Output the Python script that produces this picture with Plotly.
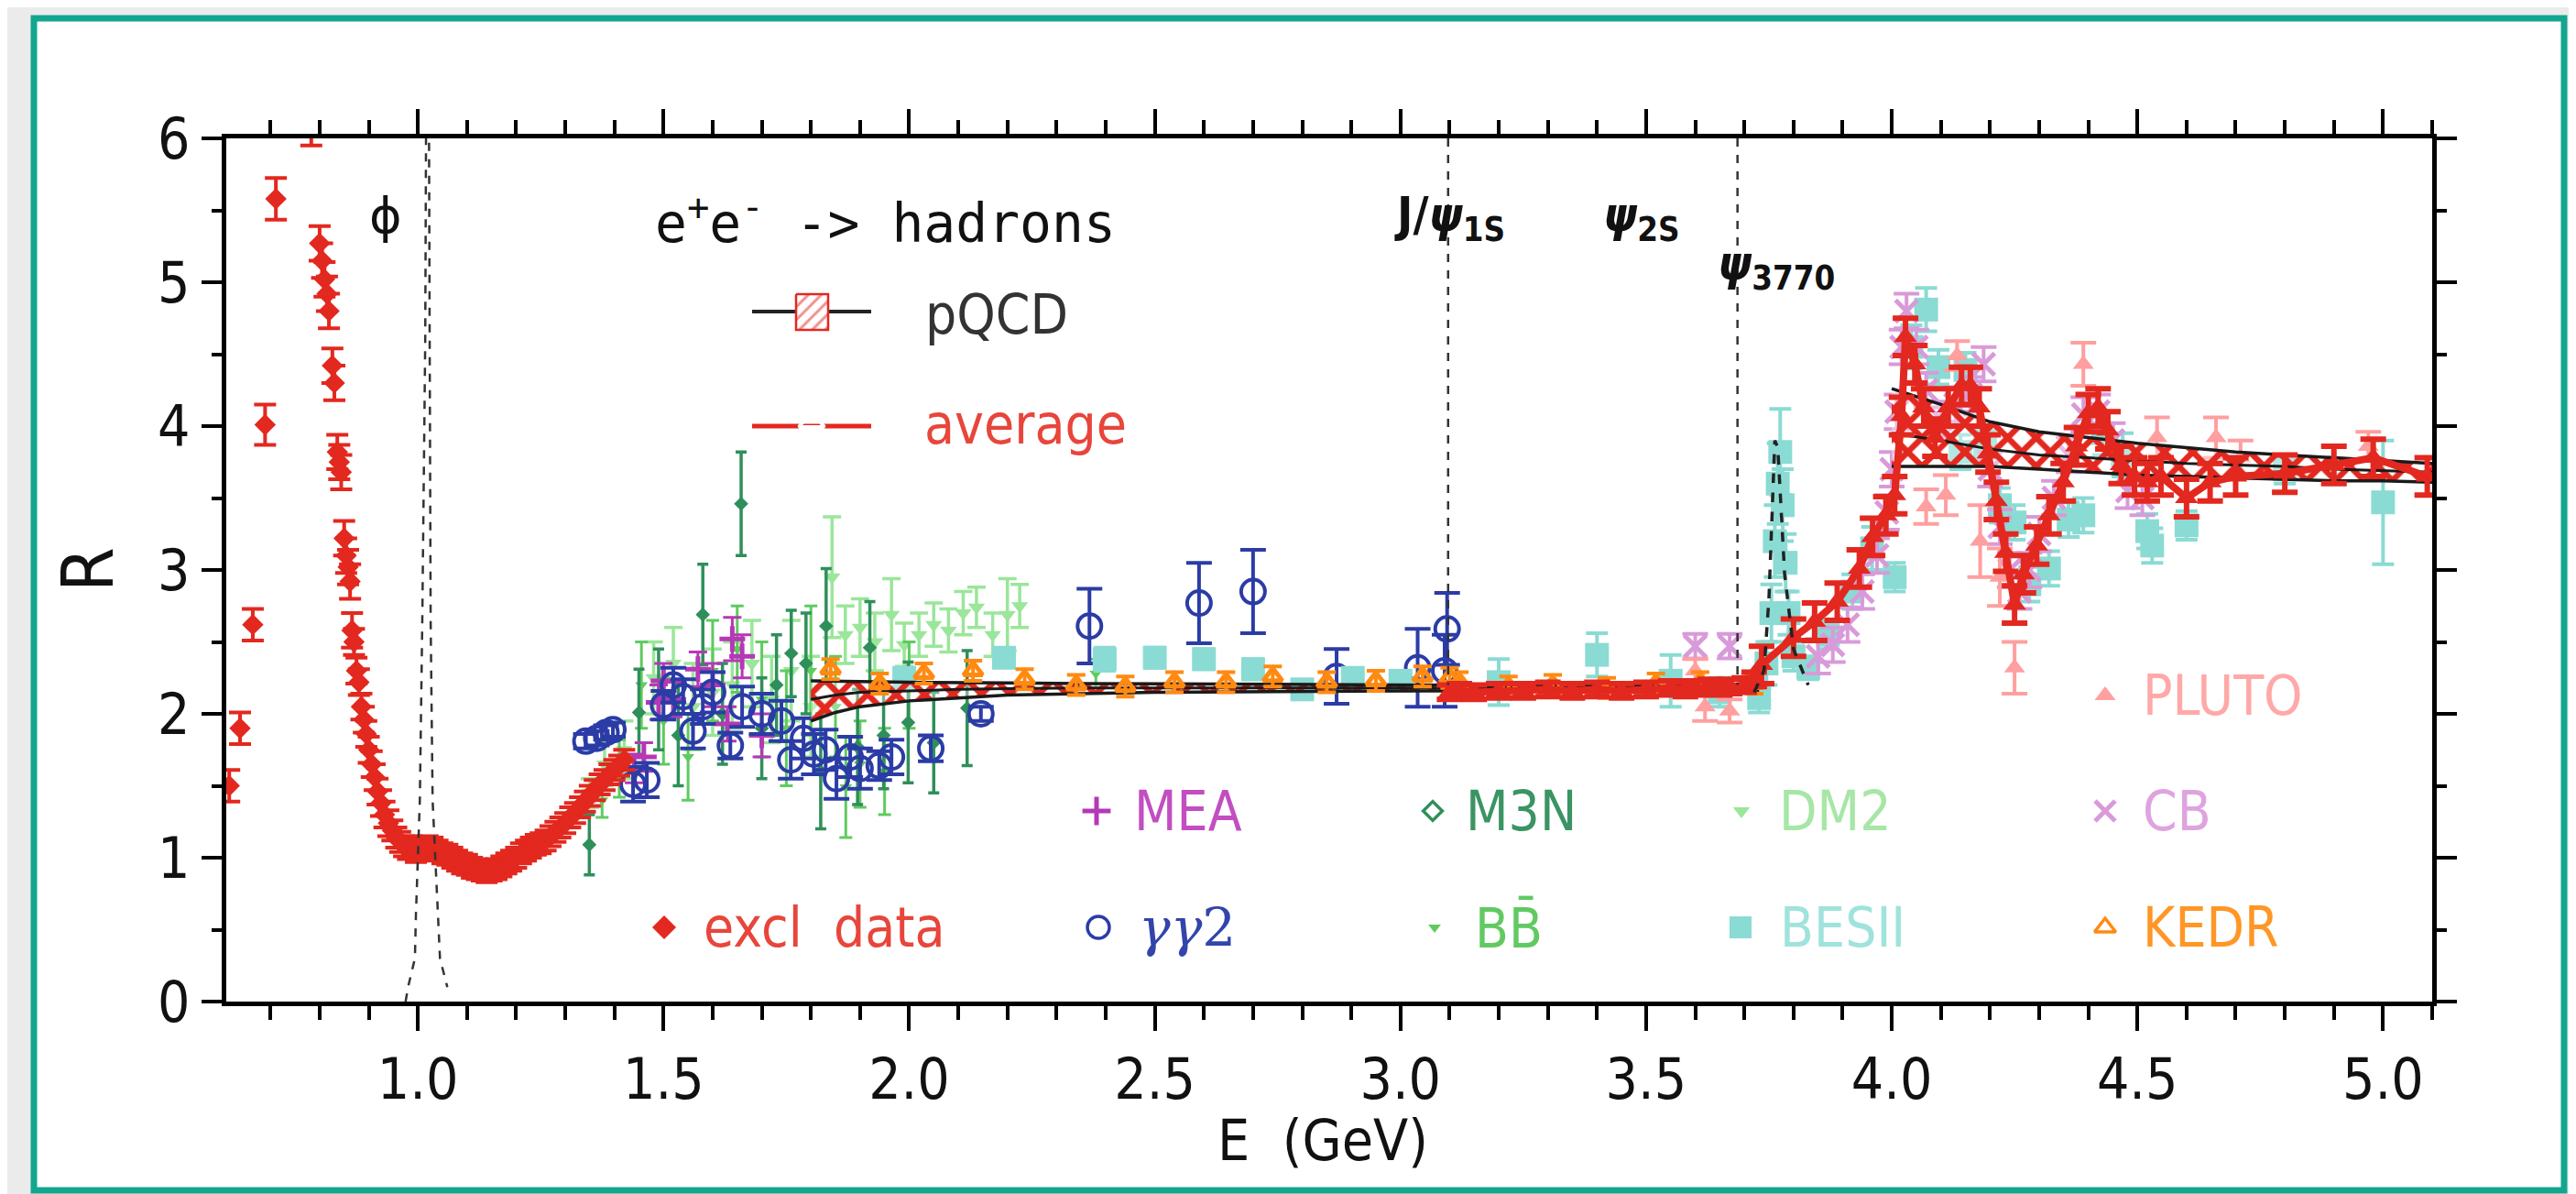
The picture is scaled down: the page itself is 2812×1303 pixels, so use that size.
import plotly.graph_objects as go

W, H = 2812, 1303
L, RR, T, B = 239, 2647, 143, 1085  # plot area in px

# ---------------- data ----------------
excl_E = [0.616, 0.638, 0.664, 0.689, 0.711, 0.783, 0.800, 0.805, 0.810, 0.815, 0.819, 0.826, 0.830,
          0.836, 0.840, 0.844, 0.850, 0.854, 0.858, 0.862, 0.866, 0.870, 0.875, 0.880, 0.885, 0.890,
          0.895, 0.900, 0.906, 0.912, 0.918, 0.925, 0.932, 0.940, 0.948, 0.956, 0.964, 0.972, 0.980,
          0.988, 0.996, 1.004, 1.012, 1.020, 1.030, 1.040, 1.050, 1.060, 1.070, 1.080, 1.090, 1.100,
          1.110, 1.120, 1.130, 1.140, 1.150, 1.160, 1.170, 1.180, 1.190, 1.200, 1.210, 1.220, 1.230,
          1.240, 1.250, 1.260, 1.270, 1.280, 1.290, 1.300, 1.310, 1.320, 1.330, 1.340, 1.350, 1.360,
          1.370, 1.380, 1.390, 1.400, 1.410, 1.420]
excl_R = [1.50, 1.90, 2.62, 4.01, 5.58, 6.10, 5.27, 5.15, 5.02, 4.92, 4.80, 4.42, 4.30,
          3.82, 3.75, 3.68, 3.22, 3.10, 3.02, 2.92, 2.58, 2.50, 2.30, 2.22, 2.05, 1.96,
          1.86, 1.75, 1.65, 1.56, 1.46, 1.38, 1.30, 1.24, 1.19, 1.14, 1.11, 1.08, 1.06,
          1.08, 1.04, 1.07, 1.06, 1.08, 1.07, 1.05, 1.03, 1.02, 1.00, 0.98, 0.96, 0.95,
          0.93, 0.92, 0.91, 0.90, 0.91, 0.92, 0.94, 0.96, 0.98, 1.00, 1.03, 1.05, 1.07,
          1.09, 1.10, 1.12, 1.15, 1.18, 1.21, 1.24, 1.28, 1.31, 1.35, 1.39, 1.43, 1.47,
          1.51, 1.54, 1.58, 1.61, 1.64, 1.68]
excl_err = [0.11, 0.11, 0.11, 0.14, 0.145, 0.15] + [0.12] * 15 + [0.09] * 13 + [0.07] * 50

gg_E = [1.342, 1.364, 1.383, 1.397, 1.438, 1.466, 1.50, 1.52, 1.54, 1.56, 1.58, 1.60, 1.636, 1.66, 1.70,
        1.74, 1.759, 1.785, 1.806, 1.83, 1.852, 1.88, 1.90, 1.939, 1.964, 2.044, 2.146, 2.367, 2.59, 2.70,
        2.87, 3.035, 3.09, 3.095]
gg_R = [1.81, 1.83, 1.87, 1.89, 1.51, 1.54, 2.06, 2.20, 2.12, 1.88, 2.05, 2.15, 1.78, 2.05, 2.00,
        1.95, 1.68, 1.83, 1.72, 1.75, 1.55, 1.70, 1.62, 1.64, 1.70, 1.76, 2.00, 2.61, 2.77, 2.85,
        2.26, 2.32, 2.30, 2.59]
gg_err = [0.05, 0.05, 0.05, 0.05, 0.12, 0.12, 0.10, 0.12, 0.12, 0.12, 0.12, 0.14, 0.09, 0.14, 0.14,
          0.14, 0.13, 0.14, 0.14, 0.14, 0.14, 0.14, 0.14, 0.10, 0.12, 0.09, 0.05, 0.26, 0.28, 0.29,
          0.19, 0.27, 0.25, 0.25]

m3n_E = [1.349, 1.45, 1.49, 1.53, 1.58, 1.62, 1.658, 1.70, 1.73, 1.76, 1.79, 1.82, 1.831, 1.895, 1.92,
         1.948, 1.998, 2.05, 2.118]
m3n_R = [1.09, 2.01, 2.10, 1.85, 2.69, 2.00, 3.46, 1.90, 2.20, 2.42, 2.35, 1.60, 2.61, 1.77, 2.46,
         1.85, 1.94, 1.80, 2.04]
m3n_err = [0.21, 0.30, 0.35, 0.35, 0.35, 0.35, 0.36, 0.35, 0.35, 0.30, 0.35, 0.40, 0.40, 0.40, 0.32,
           0.37, 0.42, 0.35, 0.40]

dm2_E = [1.35, 1.38, 1.42, 1.48, 1.52, 1.56, 1.60, 1.64, 1.68, 1.72, 1.76, 1.80, 1.843, 1.87, 1.90,
         1.93, 1.964, 1.99, 2.02, 2.05, 2.08, 2.11, 2.137, 2.17, 2.20, 2.225]
dm2_R = [1.45, 1.65, 1.75, 2.25, 2.35, 2.05, 2.15, 2.20, 2.35, 2.10, 2.30, 2.05, 2.95, 2.55, 2.60,
         2.50, 2.69, 2.48, 2.55, 2.62, 2.58, 2.70, 2.74, 2.55, 2.69, 2.75]
dm2_err = [0.10, 0.15, 0.20, 0.25, 0.25, 0.30, 0.30, 0.30, 0.30, 0.30, 0.35, 0.35, 0.42, 0.20, 0.20,
           0.20, 0.25, 0.15, 0.15, 0.15, 0.15, 0.15, 0.14, 0.15, 0.25, 0.15]

bb_E = [1.375, 1.41, 1.455, 1.50, 1.55, 1.60, 1.65, 1.70, 1.75, 1.80, 1.85, 1.871, 1.90, 1.95, 2.00, 2.38]
bb_R = [1.40, 1.62, 2.20, 1.95, 1.70, 2.30, 2.45, 2.10, 1.90, 2.30, 2.05, 1.49, 1.65, 1.60, 2.20, 2.28]
bb_err = [0.12, 0.20, 0.30, 0.30, 0.30, 0.35, 0.30, 0.40, 0.40, 0.45, 0.35, 0.35, 0.30, 0.30, 0.30, 0.10]

mea_E = [1.44, 1.46, 1.49, 1.50, 1.52, 1.57, 1.60, 1.63, 1.64, 1.66, 1.70]
mea_R = [1.62, 1.70, 2.08, 2.23, 2.10, 2.31, 2.20, 1.93, 2.52, 2.40, 1.85]
mea_err = [0.10, 0.10, 0.12, 0.12, 0.12, 0.12, 0.15, 0.12, 0.15, 0.15, 0.15]

bes_E = [1.99, 2.193, 2.398, 2.50, 2.60, 2.70, 2.80, 2.903, 3.00, 3.20, 3.40, 3.55, 3.65, 3.73, 3.745,
         3.755, 3.762, 3.768, 3.773, 3.778, 3.784, 3.79, 3.80, 3.83, 3.87, 3.92, 3.96, 4.006, 4.04, 4.07,
         4.095, 4.14, 4.15, 4.19, 4.22, 4.25, 4.28, 4.32, 4.36, 4.39, 4.43, 4.47, 4.52, 4.53, 4.60, 4.80, 5.00]
bes_R = [2.25, 2.39, 2.38, 2.39, 2.38, 2.31, 2.17, 2.25, 2.23, 2.22, 2.41, 2.23, 2.15, 2.11, 2.35,
         2.70, 3.20, 3.60, 3.82, 3.45, 3.05, 2.70, 2.40, 2.32, 2.55, 2.85, 3.15, 2.95, 4.55, 4.81,
         4.41, 3.82, 4.39, 3.85, 3.45, 3.33, 2.90, 3.01, 3.35, 3.38, 3.95, 3.80, 3.27, 3.17, 3.31, 3.70, 3.47]
bes_err = [0.05, 0.06, 0.08, 0.07, 0.07, 0.07, 0.05, 0.05, 0.05, 0.16, 0.15, 0.18, 0.10, 0.10, 0.15,
           0.20, 0.25, 0.28, 0.30, 0.25, 0.20, 0.15, 0.10, 0.08, 0.10, 0.12, 0.15, 0.10, 0.15, 0.15,
           0.12, 0.12, 0.12, 0.12, 0.12, 0.12, 0.12, 0.12, 0.12, 0.12, 0.15, 0.15, 0.12, 0.12, 0.10, 0.10, 0.43]

cb_E = [3.60, 3.67, 3.85, 3.88, 3.91, 3.94, 3.97, 3.99, 4.00, 4.01, 4.02, 4.03, 4.05, 4.07, 4.10, 4.13,
        4.16, 4.187, 4.20, 4.22, 4.24, 4.26, 4.28, 4.30, 4.33, 4.36, 4.39, 4.42, 4.45, 4.48, 4.51]
cb_R = [2.47, 2.47, 2.40, 2.48, 2.62, 2.85, 3.10, 3.40, 3.70, 4.10, 4.55, 4.80, 4.55, 4.25, 4.05, 4.15,
        4.22, 4.43, 3.70, 3.30, 3.00, 2.85, 3.00, 3.25, 3.50, 3.80, 4.08, 4.10, 3.90, 3.55, 3.50]
cb_err = [0.085, 0.085] + [0.12] * 29

pluto_E = [3.60, 3.62, 3.67, 4.07, 4.11, 4.133, 4.18, 4.22, 4.25, 4.39, 4.54, 4.66, 4.71, 4.97]
pluto_R = [2.30, 2.05, 2.02, 3.44, 3.52, 4.49, 3.20, 2.95, 2.32, 4.43, 3.92, 3.92, 3.78, 3.86]
pluto_err = [0.08, 0.10, 0.08, 0.12, 0.14, 0.10, 0.25, 0.20, 0.18, 0.15, 0.14, 0.14, 0.12, 0.10]

kedr_E = [1.84, 1.94, 2.03, 2.13, 2.235, 2.34, 2.44, 2.54, 2.645, 2.74, 2.85, 2.95, 3.045, 3.10, 3.12,
          3.22, 3.31, 3.42, 3.52, 3.61, 3.72]
kedr_R = [2.31, 2.21, 2.28, 2.30, 2.24, 2.20, 2.19, 2.22, 2.22, 2.26, 2.22, 2.23, 2.26, 2.25, 2.22,
          2.19, 2.20, 2.18, 2.21, 2.22, 2.21]
kedr_err = [0.07] * 21

avg_E = [3.10, 3.12, 3.15, 3.20, 3.25, 3.30, 3.35, 3.40, 3.45, 3.50, 3.55, 3.58, 3.60, 3.63, 3.65, 3.67,
         3.70, 3.72, 3.735, 3.80, 3.843, 3.889, 3.934, 3.961, 3.988, 4.006, 4.02, 4.028, 4.047, 4.065,
         4.088, 4.115, 4.142, 4.16, 4.178, 4.196, 4.213, 4.232, 4.25, 4.268, 4.295, 4.32, 4.349, 4.376,
         4.40, 4.42, 4.44, 4.467, 4.494, 4.52, 4.548, 4.60, 4.648, 4.70, 4.80, 4.90, 4.98, 5.09]
avg_R = [2.15, 2.16, 2.15, 2.16, 2.16, 2.17, 2.16, 2.17, 2.16, 2.17, 2.18, 2.17, 2.18, 2.19, 2.18, 2.19,
         2.20, 2.24, 2.34, 2.53, 2.64, 2.78, 3.01, 3.23, 3.38, 3.52, 4.07, 4.62, 4.43, 4.13,
         3.92, 4.13, 4.28, 4.28, 4.13, 3.81, 3.48, 3.12, 2.76, 2.97, 3.17, 3.38, 3.61, 3.86,
         4.09, 4.13, 3.97, 3.73, 3.65, 3.61, 3.65, 3.50, 3.61, 3.65, 3.67, 3.73, 3.78, 3.65]
avg_err = [0.05] * 18 + [0.13] * 40

pqcd_lo_E = [1.80, 1.85, 1.90, 2.00, 2.10, 2.20, 2.35, 2.50, 2.75, 3.00, 3.35, 3.73]
pqcd_lo_low = [1.95, 2.01, 2.05, 2.09, 2.11, 2.13, 2.14, 2.15, 2.155, 2.16, 2.16, 2.16]
pqcd_lo_mid = [2.10, 2.13, 2.15, 2.16, 2.17, 2.175, 2.18, 2.18, 2.18, 2.18, 2.18, 2.175]
pqcd_lo_up = [2.23, 2.23, 2.225, 2.22, 2.22, 2.215, 2.21, 2.21, 2.205, 2.20, 2.195, 2.19]

pqcd_hi_E = [4.00, 4.10, 4.20, 4.30, 4.40, 4.50, 4.60, 4.70, 4.80, 4.90, 5.00, 5.10]
pqcd_hi_low = [3.72, 3.72, 3.72, 3.70, 3.68, 3.66, 3.65, 3.64, 3.63, 3.62, 3.62, 3.61]
pqcd_hi_mid = [3.95, 3.90, 3.84, 3.80, 3.78, 3.76, 3.74, 3.73, 3.72, 3.70, 3.69, 3.68]
pqcd_hi_up = [4.26, 4.15, 4.03, 3.96, 3.92, 3.88, 3.85, 3.82, 3.80, 3.78, 3.76, 3.74]

phi_E = [0.975, 0.980, 0.994, 0.996, 1.004, 1.009, 1.015, 1.020, 1.024, 1.026, 1.030, 1.041, 1.045, 1.060]
phi_R = [0.00, 0.10, 0.30, 0.60, 1.40, 2.65, 4.60, 9.00, 4.60, 2.65, 1.40, 0.60, 0.30, 0.10]

psi_E = [3.097, 3.686]          # J/psi(1S), psi(2S)
psi_R_top, psi_R_bot = 6.0, 2.2

psi3770_E = [3.72, 3.74, 3.75, 3.757, 3.762, 3.768, 3.775, 3.782, 3.80, 3.83]
psi3770_R = [2.15, 2.30, 2.80, 3.50, 3.90, 3.85, 3.42, 2.97, 2.45, 2.20]

x_ticks = [1.0, 1.5, 2.0, 2.5, 3.0, 3.5, 4.0, 4.5, 5.0]
y_ticks = [0, 1, 2, 3, 4, 5, 6]

# ---------------- style ----------------
FONT = "Liberation Sans Narrow, DejaVu Sans Condensed, Roboto Condensed, DejaVu Sans, sans-serif"
RED = '#e3281f'
C_M3N = '#2f8f5a'
C_DM2 = '#9ae69a'
C_BB = '#5fcb5f'
C_GG = '#2b3ca6'
C_MEA = '#b538b5'
C_BES = '#8adbd3'
C_CB = '#d99ad9'
C_PLUTO = '#ff9f9f'
C_KEDR = '#ff8a12'
TEAL = '#12a68e'

fig = go.Figure()


def data_trace(E, Rv, err, color, symbol, size, lw=0, ew=3, cap=8, mcolor=None, mode='markers', line=None):
    return go.Scatter(
        x=E, y=Rv, mode=mode, showlegend=False, hoverinfo='skip',
        line=line if line else dict(width=0),
        marker=dict(symbol=symbol, size=size, color=mcolor or color,
                    line=dict(width=lw, color=color)),
        error_y=dict(type='data', array=err, color=color, thickness=ew, width=cap))


fig.add_trace(data_trace(dm2_E, dm2_R, dm2_err, C_DM2, 'triangle-down', 16, ew=3.5, cap=10))
fig.add_trace(data_trace(bb_E, bb_R, bb_err, C_BB, 'triangle-down', 12, ew=3, cap=7))
fig.add_trace(data_trace(m3n_E, m3n_R, m3n_err, C_M3N, 'diamond', 12, ew=3.5, cap=6))
fig.add_trace(data_trace(mea_E, mea_R, mea_err, C_MEA, 'cross-thin', 20, lw=5, cap=10))
fig.add_trace(data_trace(gg_E, gg_R, gg_err, C_GG, 'circle-open', 26, lw=4, ew=4, cap=14))
fig.add_trace(data_trace(bes_E, bes_R, bes_err, C_BES, 'square', 26, ew=4, cap=12))
fig.add_trace(data_trace(cb_E, cb_R, cb_err, C_CB, 'x-thin', 24, lw=5, ew=4, cap=14))
fig.add_trace(data_trace(pluto_E, pluto_R, pluto_err, C_PLUTO, 'triangle-up', 20, ew=4, cap=14))

# pQCD band (two sections)
for Es, lo, mid, up in [(pqcd_lo_E, pqcd_lo_low, pqcd_lo_mid, pqcd_lo_up),
                        (pqcd_hi_E, pqcd_hi_low, pqcd_hi_mid, pqcd_hi_up)]:
    fig.add_trace(go.Scatter(x=Es, y=lo, mode='lines', showlegend=False, hoverinfo='skip',
                             line=dict(color='#1a1a1a', width=3.5)))
    fig.add_trace(go.Scatter(x=Es, y=up, mode='lines', showlegend=False, hoverinfo='skip',
                             line=dict(color='#1a1a1a', width=3.5), fill='tonexty',
                             fillcolor='rgba(255,255,255,0.35)',
                             fillpattern=dict(shape='x', fgcolor=RED, bgcolor='rgba(255,255,255,0.35)',
                                              size=22, solidity=0.5, fillmode='replace')))
    fig.add_trace(go.Scatter(x=Es, y=mid, mode='lines', showlegend=False, hoverinfo='skip',
                             line=dict(color='#1a1a1a', width=3)))

fig.add_trace(data_trace(kedr_E, kedr_R, kedr_err, C_KEDR, 'triangle-up-open', 18, lw=5, ew=4, cap=10))
fig.add_trace(data_trace(excl_E, excl_R, excl_err, RED, 'diamond', 18, ew=4, cap=12))
fig.add_trace(data_trace(avg_E, avg_R, avg_err, RED, 'triangle-up', 22, ew=6, cap=14,
                         mode='lines+markers', line=dict(color=RED, width=8)))

# resonance dashed curves / lines
fig.add_trace(go.Scatter(x=phi_E, y=phi_R, mode='lines', showlegend=False, hoverinfo='skip',
                         line=dict(color='#333333', width=2.5, dash='dash')))
xs, ys = [], []
for e in psi_E:
    xs += [e, e, None]
    ys += [psi_R_top, psi_R_bot, None]
fig.add_trace(go.Scatter(x=xs, y=ys, mode='lines', showlegend=False, hoverinfo='skip',
                         line=dict(color='#333333', width=2.5, dash='dash')))
fig.add_trace(go.Scatter(x=psi3770_E, y=psi3770_R, mode='lines', showlegend=False, hoverinfo='skip',
                         line=dict(color='#222222', width=3.5, dash='dash')))

# ---------------- legend keys (pixel overlay axes) ----------------
def key(xp, yp, symbol, color, size, lw=0, mcolor=None):
    fig.add_trace(go.Scatter(x=[xp], y=[yp], xaxis='x2', yaxis='y2', mode='markers',
                             showlegend=False, hoverinfo='skip',
                             marker=dict(symbol=symbol, size=size, color=mcolor or color,
                                         line=dict(width=lw, color=color))))

# pQCD key
fig.add_trace(go.Scatter(x=[813, 943], y=[332, 332], xaxis='x2', yaxis='y2', mode='lines',
                         showlegend=False, hoverinfo='skip', line=dict(color='#222222', width=4)))
fig.add_trace(go.Scatter(x=[861, 896, 896, 861, 861], y=[313, 313, 352, 352, 313], xaxis='x2', yaxis='y2',
                         mode='lines', fill='toself', fillcolor='white', showlegend=False, hoverinfo='skip',
                         line=dict(color=RED, width=2.5),
                         fillpattern=dict(shape='/', fgcolor=RED, bgcolor='white', size=10, solidity=0.3)))
# average key
fig.add_trace(go.Scatter(x=[813, 943], y=[457, 457], xaxis='x2', yaxis='y2', mode='lines',
                         showlegend=False, hoverinfo='skip', line=dict(color=RED, width=5)))
key(878, 452, 'triangle-up-open', RED, 24, lw=4, mcolor='white')

key(1189, 877, 'cross-thin', C_MEA, 22, lw=5)
key(1556, 877, 'diamond-open', C_M3N, 16, lw=3.5)
key(1893, 877, 'triangle-down', C_DM2, 16)
key(2290, 877, 'x-thin', C_CB, 22, lw=5)
key(2290, 751, 'triangle-up', C_PLUTO, 20)
key(717, 1004, 'diamond', RED, 20)
key(1191, 1004, 'circle-open', C_GG, 24, lw=3.5)
key(1558, 1004, 'triangle-down', C_BB, 12)
key(1892, 1004, 'square', C_BES, 24)
key(2290, 1004, 'triangle-up-open', C_KEDR, 20, lw=3.5)

ann = []


def txt(xp, yp, s, color, size=60, xanchor='left', family=FONT, yanchor='middle'):
    ann.append(dict(x=xp, y=yp, xref='x2', yref='y2', text=s, showarrow=False, xanchor=xanchor,
                    yanchor=yanchor, font=dict(family=family, size=size, color=color)))


txt(1228, 877, 'MEA', '#c24ec2')
txt(1590, 877, 'M3N', '#3a9463')
txt(1932, 877, 'DM2', '#a6e6a6')
txt(2329, 877, 'CB', '#dfa3df')
txt(2329, 751, 'PLUTO', '#ffa8a8')
txt(758, 1004, 'excl  data', '#e8453b')
txt(1233, 1004, '<i>γγ</i>2', '#3344aa', family='DejaVu Serif, serif', size=58)
txt(1600, 1004, 'BB\u0304', '#62c962')
txt(1933, 1004, 'BESII', '#9fe3dc')
txt(2329, 1004, 'KEDR', '#ff9626')
txt(1000, 335, 'pQCD', '#333333')
txt(999, 455, 'average', '#e8453b')
txt(705, 232, 'e<sup>+</sup>e<sup>-</sup> -> hadrons', '#111111', size=58, family='DejaVu Sans Mono, monospace')
txt(413, 227, 'ϕ', '#111111', size=54, xanchor='center', family='DejaVu Sans, sans-serif')
txt(1512, 230, '<b>J/<i>ψ</i><sub>1S</sub></b>', '#111111', size=52)
txt(1740, 230, '<b><i>ψ</i><sub>2S</sub></b>', '#111111', size=52)
txt(1865, 283, '<b><i>ψ</i><sub>3770</sub></b>', '#111111', size=52)


def pap_x(px):
    return (px - L) / (RR - L)


def pap_y(py):
    return (B - py) / (B - T)


ann.append(dict(x=pap_x(1436), y=pap_y(1236), xref='paper', yref='paper', text='E  (GeV)',
                showarrow=False, xanchor='center', yanchor='middle',
                font=dict(family=FONT, size=62, color='#111111')))
ann.append(dict(x=pap_x(88), y=pap_y(614), xref='paper', yref='paper', text='R', textangle=-90,
                showarrow=False, xanchor='center', yanchor='middle',
                font=dict(family=FONT, size=78, color='#111111')))

shapes = [dict(type='rect', xref='paper', yref='paper', x0=pap_x(29), x1=pap_x(2791),
               y0=pap_y(1291), y1=pap_y(12), fillcolor='white', line=dict(color=TEAL, width=7),
               layer='below')]

axis_common = dict(showline=True, linewidth=5, linecolor='black', mirror='ticks', ticks='outside',
                   tickcolor='black', tickwidth=4, showgrid=False, zeroline=False,
                   tickfont=dict(family=FONT, size=62, color='#111111'))

fig.update_layout(
    width=W, height=H,
    margin=dict(l=L, r=W - RR, t=T, b=H - B, pad=0),
    paper_bgcolor='#ebebeb', plot_bgcolor='rgba(0,0,0,0)',
    xaxis=dict(range=[0.61, 5.10], tickvals=x_ticks, ticktext=['%.1f' % v for v in x_ticks],
               ticklen=27, minor=dict(dtick=0.1, tick0=0.0, ticklen=15, tickwidth=4, tickcolor='black',
                                      ticks='outside'),
               **axis_common),
    yaxis=dict(range=[0, 6], tickvals=y_ticks, ticklen=22,
               minor=dict(dtick=0.5, tick0=0, ticklen=11, tickwidth=4, tickcolor='black', ticks='outside'),
               **axis_common),
    xaxis2=dict(overlaying='x', range=[L, RR], visible=False, fixedrange=True),
    yaxis2=dict(overlaying='y', range=[B, T], visible=False, fixedrange=True),
    annotations=ann, shapes=shapes,
)

fig.write_html("out.html")
